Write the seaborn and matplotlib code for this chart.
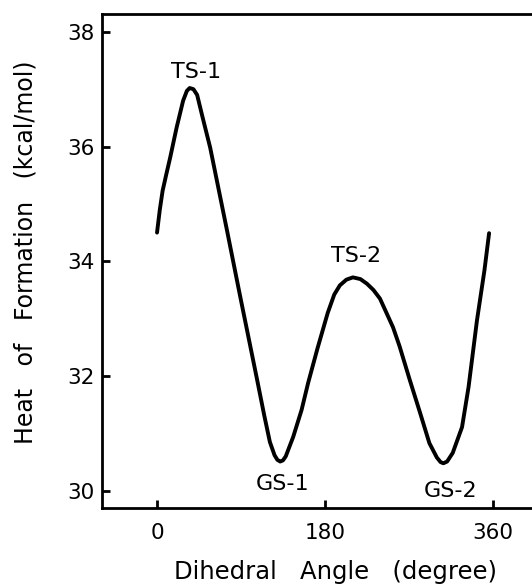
import matplotlib
matplotlib.use("Agg")
import matplotlib.pyplot as plt
import seaborn as sns
import pandas as pd

# Data
angle = [0, 3, 6, 10, 14, 21, 28, 32, 35, 39, 43, 49, 57, 64, 75, 89, 100, 107,
         115, 121, 126, 129, 132, 135, 138, 146, 155, 162, 172, 183, 190, 196,
         203, 210, 218, 225, 232, 239, 253, 260, 271, 282, 292, 300, 304, 307,
         311, 317, 327, 334, 343, 351, 356]
heat = [34.50, 34.90, 35.23, 35.52, 35.80, 36.33, 36.80, 36.97, 37.02, 37.00,
        36.90, 36.50, 35.98, 35.42, 34.54, 33.40, 32.52, 31.96, 31.31, 30.85,
        30.62, 30.54, 30.51, 30.53, 30.60, 30.94, 31.41, 31.88, 32.48, 33.10,
        33.42, 33.58, 33.68, 33.72, 33.69, 33.61, 33.50, 33.35, 32.85, 32.52,
        31.93, 31.36, 30.83, 30.58, 30.50, 30.48, 30.51, 30.66, 31.11, 31.81,
        32.97, 33.84, 34.49]

labels = ["TS-1", "GS-1", "TS-2", "GS-2"]
label_x = [42, 135, 213, 315]
label_y = [37.30, 30.12, 34.09, 30.00]

xticks = [0, 180, 360]
yticks = [30, 32, 34, 36, 38]

sns.set_theme(style="ticks")
plt.rcParams['font.family'] = ['DejaVu Sans']

fig = plt.figure(figsize=(5.32, 5.86), dpi=100)
ax = fig.add_axes([0.1917, 0.1331, 0.8083, 0.843])

df = pd.DataFrame({"angle": angle, "heat": heat})
sns.lineplot(data=df, x="angle", y="heat", ax=ax, color="black", linewidth=2.8,
             sort=False, estimator=None, solid_joinstyle="round",
             solid_capstyle="round")

for t, x, y in zip(labels, label_x, label_y):
    ax.text(x, y, t, ha="center", va="center", fontsize=16, color="black")

ax.set_xlim(-59, 402)
ax.set_ylim(29.70, 38.31)
ax.set_xticks(xticks)
ax.set_yticks(yticks)
ax.tick_params(direction="in", length=6, width=2, labelsize=15.5, colors="black")
ax.tick_params(axis="x", pad=11)
ax.tick_params(axis="y", pad=5)
for s in ["left", "bottom", "top"]:
    ax.spines[s].set_linewidth(2)
    ax.spines[s].set_color("black")
ax.spines["right"].set_visible(False)

ax.set_xlabel("Dihedral   Angle   (degree)", fontsize=17.5, color="black")
ax.set_ylabel("Heat   of   Formation   (kcal/mol)", fontsize=17, color="black")
ax.xaxis.set_label_coords(0.544, -0.105)
ax.yaxis.set_label_coords(-0.15, 0.518)

fig.savefig("out.png", dpi=100)
